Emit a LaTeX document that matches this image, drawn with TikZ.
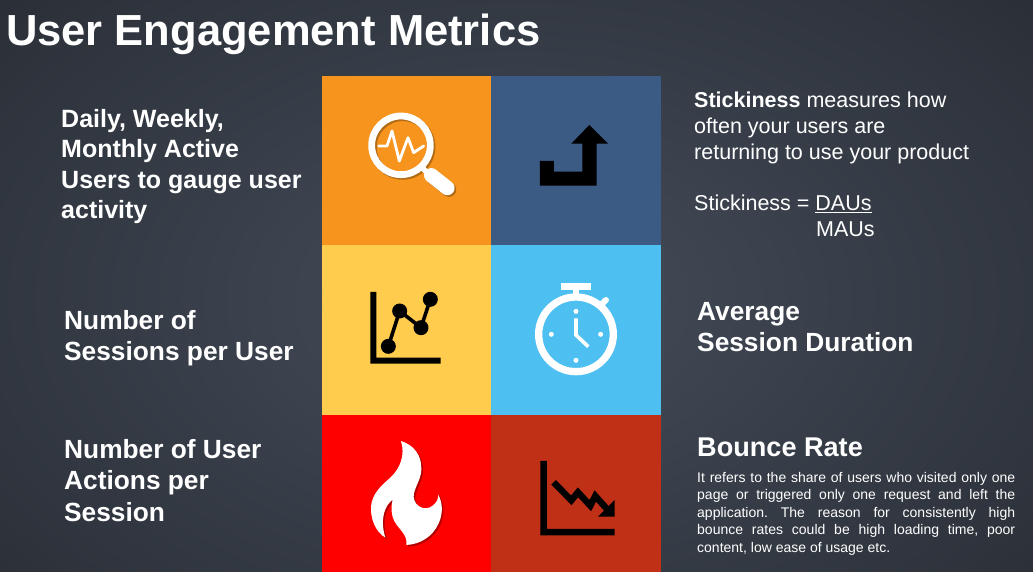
\documentclass[tikz,border=0pt]{standalone}
\usepackage{fontspec}
\setmainfont{Liberation Sans}
\definecolor{bgmid}{HTML}{454D5A}
\definecolor{bgout}{HTML}{1D2026}
\definecolor{torange}{HTML}{F7941E}
\definecolor{tblue}{HTML}{3B5B85}
\definecolor{tyellow}{HTML}{FFCC4D}
\definecolor{tsky}{HTML}{4DBFF0}
\definecolor{tred}{HTML}{FF0000}
\definecolor{tbrick}{HTML}{C03017}
\tikzset{
  big/.style={text=white,font=\bfseries\fontsize{26.3}{31.5}\selectfont,align=left,anchor=north west,inner sep=0},
  lite/.style={text=white,font=\fontsize{21.5}{26}\selectfont,align=left,anchor=north west,inner sep=0},
}
\begin{document}
\frenchspacing
\begin{tikzpicture}[x=1pt,y=-1pt,line join=miter]
\useasboundingbox (0,0) rectangle (1033,572);
\fill[bgout] (0,0) rectangle (1033,572);
\begin{scope}
\clip (0,0) rectangle (1033,572);
\shade[inner color=bgmid,outer color=bgout] (516,300) ellipse [x radius=1040,y radius=680];
\end{scope}
% tiles
\fill[torange] (322,76) rectangle (491,245);
\fill[tblue] (491,76) rectangle (661,245);
\fill[tyellow] (322,245) rectangle (491,415);
\fill[tsky] (491,245) rectangle (661,415);
\fill[tred] (322,415) rectangle (491,572);
\fill[tbrick] (491,415) rectangle (661,572);
% magnifier
\begin{scope}[shift={(322,76)},x=0.3333pt,y=-0.3333pt]
 \foreach \dx/\col/\op in {5/black/0.28,0/white/1}{
 \begin{scope}[shift={(\dx,\dx)},opacity=\op,draw=\col,fill=\col]
  \draw[line width=6.8pt] (237,208) circle (88);
  \draw[line width=5.5pt] (298,272) -- (325,300);
  \draw[line width=14.5pt,line cap=round] (328,298) -- (376,336);
 \end{scope}}
 \draw[white,line width=2.8pt,line join=round,line cap=round] (170,210) -- (195,210) -- (210,165) -- (232,255) -- (258,185) -- (275,230) -- (305,210);
 % arrow
 \fill[black] (654,255) -- (696,255) -- (696,287) -- (781,287) -- (781,203) -- (748,203) -- (802,147) -- (858,203) -- (824,203) -- (824,329) -- (654,329) -- cycle;
\end{scope}
% chart up and stopwatch
\begin{scope}[shift={(322,245)},x=0.3333pt,y=-0.3333pt]
 \fill[black] (145,141) -- (163,141) -- (163,338) -- (356,338) -- (356,356) -- (145,356) -- cycle;
 \draw[black,line width=3.6pt] (199,304) -- (233,198) -- (297,248) -- (325,163);
 \foreach \p in {(199,304),(233,198),(297,248),(325,163)} \fill[black] \p circle (22.5);
 \draw[white,line width=7.3pt] (762,268) circle (112);
 \fill[white] (718,114) rectangle (806,135);
 \fill[white] (752,135) rectangle (772,158);
 \draw[white,line width=6pt,line cap=round] (835,181) -- (852,165);
 \foreach \p in {(762,199),(688,268),(836,268),(762,346)} \fill[white] \p circle (7.5);
 \draw[white,line width=3.6pt] (762,220) -- (762,270) -- (799,305);
\end{scope}
% flame and chart down
\begin{scope}[shift={(322,415)},x=0.3333pt,y=-0.3333pt]
 \def\flame{(237,78) .. controls (275,90) and (300,120) .. (298,165) .. controls (297,195) and (275,220) .. (275,245) .. controls (277,275) and (310,290) .. (332,272) .. controls (345,262) and (350,250) .. (348,238) .. controls (362,262) and (364,295) .. (350,325) .. controls (332,365) and (295,388) .. (253,390) .. controls (258,360) and (232,345) .. (218,320) .. controls (206,298) and (207,275) .. (212,254) .. controls (190,270) and (172,310) .. (190,368) .. controls (160,350) and (145,310) .. (147,275) .. controls (150,235) and (180,210) .. (205,188) .. controls (235,160) and (250,120) .. (237,78) -- cycle}
 \fill[black,opacity=0.3,shift={(5,5)}] \flame;
 \fill[white] \flame;
 \fill[black] (655,138) -- (675,138) -- (675,342) -- (878,342) -- (878,361) -- (655,361) -- cycle;
 \draw[black,line width=6.5pt] (695,202) -- (748,256) -- (768,232) -- (805,272) -- (820,243) -- (862,290);
 \fill[black] (878,255) -- (878,305) -- (828,305) -- cycle;
\end{scope}
% texts
\node[text=white,font=\bfseries\fontsize{43.5}{50}\selectfont,anchor=base west,inner sep=0] (title) at (6,46) {User Engagement Metrics};
\node[big,font=\bfseries\fontsize{25}{30.4}\selectfont] (dau) at (61,109) {Daily, Weekly,\\Monthly Active\\Users to gauge user\\activity};
\node[big] (sess) at (64,310) {Number of\\Sessions per User};
\node[big] (act) at (64,439) {Number of User\\Actions per\\Session};
\node[lite] (stick) at (694,92) {\textbf{Stickiness} measures how\\often your users are\\returning to use your product};
\node[lite,anchor=base west] (formula) at (694,210.5) {Stickiness = \underline{DAUs}};
\node[lite,anchor=base west] (maus) at (816,236.5) {MAUs};
\node[big] (avg) at (697,302) {Average\\Session Duration};
\node[big,font=\bfseries\fontsize{27.1}{32}\selectfont,anchor=base west] (bounce) at (697,456.5) {Bounce Rate};
\node[text=white,font=\fontsize{14}{17.5}\selectfont,anchor=north west,inner sep=0,text width=318pt,align=justify] (desc) at (697,472) {It refers to the share of users who visited only one\linebreak page or triggered only one request and left the\linebreak application. The reason for consistently high\linebreak bounce rates could be high loading time, poor\linebreak content, low ease of usage etc.};
\end{tikzpicture}
\end{document}
